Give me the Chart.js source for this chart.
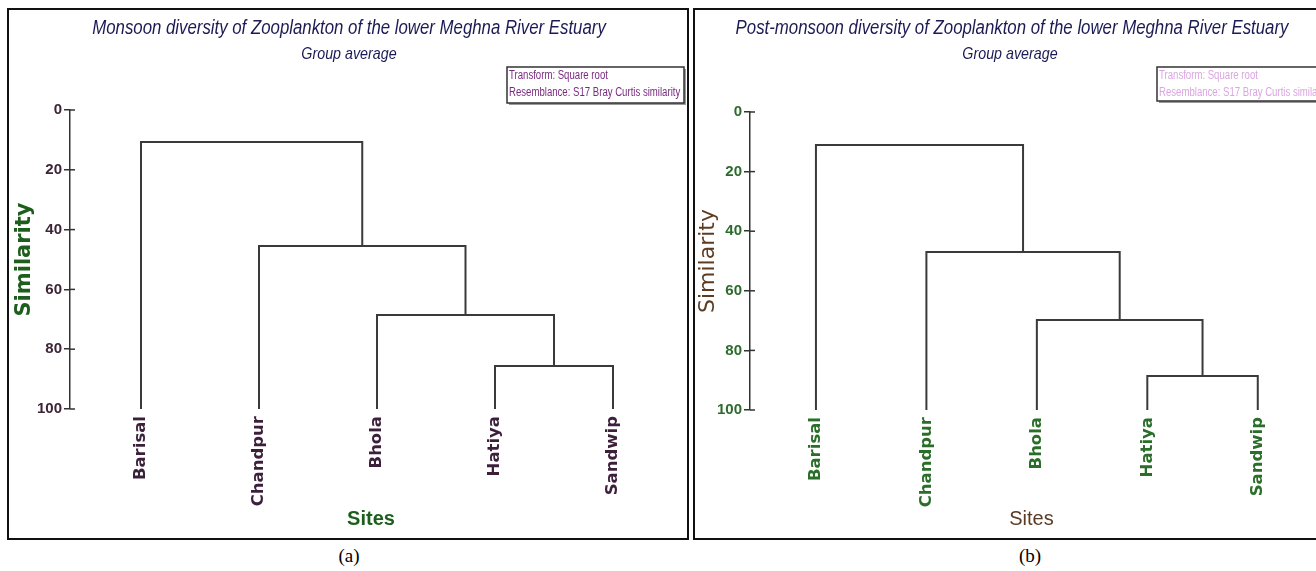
<!DOCTYPE html>
<html>
<head>
<meta charset="utf-8">
<script src="https://cdn.jsdelivr.net/npm/chart.js@4.4.1/dist/chart.umd.min.js"></script>
<style>
  html, body { margin: 0; padding: 0; background: #fff; overflow: hidden; }
  body { width: 1316px; height: 571px; position: relative; }
  .panel { position: absolute; top: 8px; border: 2px solid #111; background: #fff; }
  #panelA { left: 7px; width: 678px; height: 528px; }
  #panelB { left: 693px; width: 636px; height: 528px; }
  canvas { display: block; }
  .caption { position: absolute; top: 545px; font: 19px "Liberation Serif", "Times New Roman", serif; color: #000; transform: translateX(-50%); }
  /* condensed italic headings above each tree */
  .head { position: absolute; white-space: nowrap; color: #1a1a55; font-family: "Liberation Sans", Arial, sans-serif; font-style: italic; transform: translate(-50%, -50%) scaleX(0.84); }
  .head.main { font-size: 20px; top: 27px; }
  .head.sub { font-size: 17px; top: 54px; }
</style>
</head>
<body>
<div class="panel" id="panelA"><canvas id="chartA" width="678" height="528"></canvas></div>
<div class="panel" id="panelB"><canvas id="chartB" width="636" height="528"></canvas></div>
<div class="head main" style="left:349px">Monsoon diversity of Zooplankton of the lower Meghna River Estuary</div>
<div class="head sub" style="left:349px">Group average</div>
<div class="head main" style="left:1012px">Post-monsoon diversity of Zooplankton of the lower Meghna River Estuary</div>
<div class="head sub" style="left:1010px">Group average</div>
<div class="caption" style="left:349px">(a)</div>
<div class="caption" style="left:1030px">(b)</div>
<script>
// sites along the bottom, left to right
const sites = ["Barisal", "Chandpur", "Bhola", "Hatiya", "Sandwip"];
// fusion order: indices >= 5 point at clusters made by earlier joins
const joins = [[3, 4], [2, 5], [1, 6], [0, 7]];
// similarity (%) at each join
const monsoonLevels = [85.6, 68.6, 45.5, 10.7];
const postMonsoonLevels = [88.6, 69.8, 47.0, 11.1];
const yTicks = [0, 20, 40, 60, 80, 100];

const arial = '"Liberation Sans", Arial, sans-serif';
const wide = '"DejaVu Sans", "Liberation Sans", Arial, sans-serif';

// each join becomes a bracket: up from the left child, across, down to the right child
function buildLinks(levels) {
  const nodes = sites.map((s, i) => ({ x: i, y: 100 }));
  return joins.map(([a, b], k) => {
    const l = nodes[a], r = nodes[b], h = levels[k];
    nodes.push({ x: (l.x + r.x) / 2, y: h });
    return {
      data: [{ x: l.x, y: l.y }, { x: l.x, y: h }, { x: r.x, y: h }, { x: r.x, y: r.y }],
      borderColor: "#3a3a3a",
      borderWidth: 2,
      pointRadius: 0,
      fill: false,
      tension: 0,
      clip: false
    };
  });
}

// the small "Transform / Resemblance" box in the top right corner
const infoBox = {
  id: "infoBox",
  afterDraw(chart, args, opts) {
    const c = chart.ctx;
    c.save();
    c.fillStyle = "#9a9a9a";
    c.fillRect(opts.x + 2, opts.y + 2, opts.w, opts.h);
    c.fillStyle = "#fff";
    c.fillRect(opts.x, opts.y, opts.w, opts.h);
    c.strokeStyle = "#333";
    c.lineWidth = 1.5;
    c.strokeRect(opts.x, opts.y, opts.w, opts.h);
    c.fillStyle = opts.color;
    c.font = "12px " + arial;
    c.textBaseline = "middle";
    c.translate(opts.x + 2, opts.y);
    c.scale(0.8, 1);
    c.fillText("Transform: Square root", 0, 9);
    c.fillText("Resemblance: S17 Bray Curtis similarity", 0, 26);
    c.restore();
  }
};

// small cross ticks on the similarity axis, poking through to the right
const crossTicks = {
  id: "crossTicks",
  afterDraw(chart) {
    const c = chart.ctx, y = chart.scales.y, x0 = chart.chartArea.left;
    c.save();
    c.strokeStyle = "#333";
    c.lineWidth = 1.5;
    yTicks.forEach((v) => {
      const py = y.getPixelForValue(v);
      c.beginPath();
      c.moveTo(x0, py);
      c.lineTo(x0 + 5, py);
      c.stroke();
    });
    c.restore();
  }
};

function makeDendrogram(canvasId, cfg) {
  return new Chart(document.getElementById(canvasId), {
    type: "line",
    data: { datasets: buildLinks(cfg.levels) },
    plugins: [infoBox, crossTicks],
    options: {
      responsive: false,
      animation: false,
      layout: { padding: { left: 0, right: cfg.padRight, top: cfg.padTop, bottom: 0 } },
      scales: {
        x: {
          type: "linear",
          min: cfg.xMin,
          max: 4.5,
          afterBuildTicks: (s) => { s.ticks = sites.map((n, i) => ({ value: i })); },
          afterFit: (s) => { s.height = cfg.xHeight; },
          grid: { display: false, drawTicks: false },
          border: { display: false },
          ticks: {
            autoSkip: false,
            minRotation: 90,
            maxRotation: 90,
            padding: 7,
            color: cfg.siteColor,
            font: { family: wide, size: 16.5, weight: "bold" },
            callback: (v) => sites[v]
          },
          title: {
            display: true,
            text: "Sites",
            color: cfg.sitesTitleColor,
            font: { family: arial, size: cfg.sitesSize, weight: cfg.sitesWeight },
            padding: { top: 0, bottom: 7 }
          }
        },
        y: {
          type: "linear",
          reverse: true,
          min: 0,
          max: 100,
          afterBuildTicks: (s) => { s.ticks = yTicks.map((v) => ({ value: v })); },
          afterFit: (s) => { s.width = cfg.yWidth; },
          grid: { drawOnChartArea: false, tickLength: 6, color: "#333", lineWidth: 1.5 },
          border: { display: true, color: "#333", width: 1.5 },
          ticks: {
            padding: 2,
            color: cfg.tickColor,
            font: { family: arial, size: 15, weight: "bold" }
          },
          title: {
            display: true,
            text: "Similarity",
            color: cfg.simColor,
            font: { family: wide, size: cfg.simSize, weight: cfg.simWeight },
            padding: { top: cfg.simPad, bottom: 0 }
          }
        }
      },
      plugins: {
        legend: { display: false },
        tooltip: { enabled: false },
        infoBox: cfg.box
      }
    }
  });
}

makeDendrogram("chartA", {
  levels: monsoonLevels,
  xMin: -0.6017,
  padRight: 15,
  padTop: 100,
  xHeight: 129,
  yWidth: 61,
  siteColor: "#3b1f3b",
  tickColor: "#3d2436",
  sitesTitleColor: "#1d5e1d",
  sitesSize: 20,
  sitesWeight: "bold",
  simColor: "#1d5e1d",
  simSize: 21,
  simWeight: "bold",
  simPad: 3,
  box: { x: 498, y: 57, w: 177, h: 36, color: "#7a2a80" }
});

makeDendrogram("chartB", {
  levels: postMonsoonLevels,
  xMin: -0.597,
  padRight: 18,
  padTop: 102,
  xHeight: 128,
  yWidth: 55,
  siteColor: "#2a6e2a",
  tickColor: "#2d6b2d",
  sitesTitleColor: "#5a3a22",
  sitesSize: 20,
  sitesWeight: "normal",
  simColor: "#5c3d22",
  simSize: 22,
  simWeight: "normal",
  simPad: 0,
  box: { x: 462, y: 57, w: 170, h: 34, color: "#dba6e2" }
});
</script>
</body>
</html>
